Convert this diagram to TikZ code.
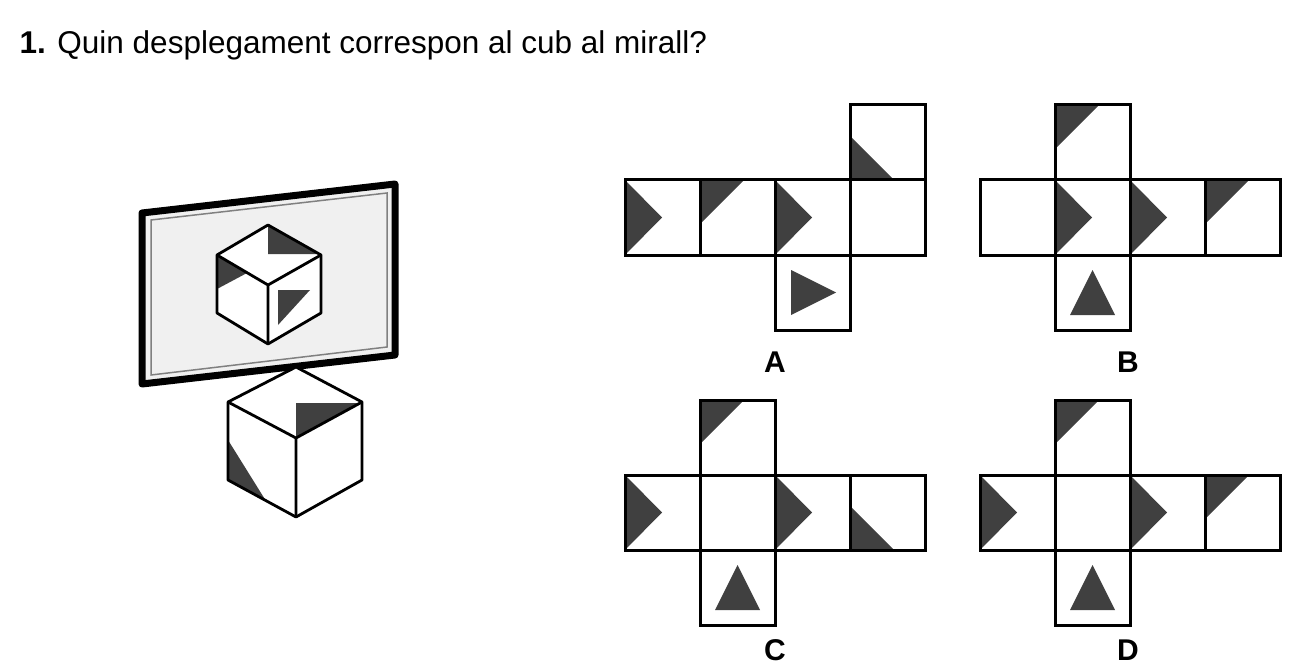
\documentclass[tikz,border=0pt]{standalone}
\usepackage{fontspec}
\setmainfont{Liberation Sans}
\definecolor{darkface}{HTML}{404040}
\definecolor{glass}{HTML}{F0F0F0}

% marks inside a 75x75 face, (#1,#2) = top left corner
\newcommand{\chev}[2]{\fill[darkface] (#1,#2) -- (#1,#2+75) -- (#1+37,#2+37.5) -- cycle;}
\newcommand{\wtl}[2]{\fill[darkface] (#1,#2) -- (#1+44,#2) -- (#1,#2+44) -- cycle;}
\newcommand{\wbl}[2]{\fill[darkface] (#1,#2+31) -- (#1,#2+75) -- (#1+44,#2+75) -- cycle;}
\newcommand{\tright}[2]{\fill[darkface] (#1+16,#2+15) -- (#1+16,#2+60) -- (#1+61,#2+37.5) -- cycle;}
\newcommand{\tup}[2]{\fill[darkface] (#1+15,#2+60) -- (#1+60,#2+60) -- (#1+37.5,#2+15) -- cycle;}
\newcommand{\face}[2]{\draw[edge] (#1,#2) rectangle ++(75,75);}

\begin{document}
\begin{tikzpicture}[x=1pt, y=-1pt,
    edge/.style={line width=3pt, line join=miter},
    cube/.style={line width=2.8pt, line join=round},
    letter/.style={font=\fontsize{30}{34}\selectfont\bfseries}]
  \useasboundingbox (0,0) rectangle (1302,666);

  % Question
  \node[anchor=west, font=\fontsize{31.5}{36}\selectfont] (title) at (16,45)
    {\textbf{1.} Quin desplegament correspon al cub al mirall?};

  % Mirror
  \draw[line width=7pt, line join=round, fill=glass]
    (142,213) -- (395,184) -- (395,355) -- (142,384) -- cycle;
  \draw[gray, line width=1.5pt] (151,220) -- (387,193) -- (387,347) -- (151,375) -- cycle;

  % Cube seen in the mirror
  \fill[white] (268,225) -- (321,255) -- (321,313) -- (268,344) -- (217,313) -- (217,255) -- cycle;
  \fill[darkface] (268,225) -- (268,254) -- (318,254) -- cycle;
  \fill[darkface] (217,255) -- (217,289) -- (247,273) -- cycle;
  \fill[darkface] (278,290) -- (310,290) -- (278,325) -- cycle;
  \draw[cube] (268,225) -- (321,255) -- (321,313) -- (268,344) -- (217,313) -- (217,255) -- cycle;
  \draw[cube] (217,255) -- (268,285) -- (321,255) (268,285) -- (268,344);

  % Real cube
  \fill[white] (296,367) -- (362,402) -- (362,480) -- (296,517) -- (228,480) -- (228,402) -- cycle;
  \fill[darkface] (296,403) -- (359,403) -- (296,438) -- cycle;
  \fill[darkface] (228,440) -- (228,480) -- (266,501) -- cycle;
  \draw[cube] (296,367) -- (362,402) -- (362,480) -- (296,517) -- (228,480) -- (228,402) -- cycle;
  \draw[cube] (228,402) -- (296,438) -- (362,402) (296,438) -- (296,517);

  % Net A
  \chev{625}{180} \wtl{700}{180} \chev{775}{180} \wbl{850}{105} \tright{775}{255}
  \foreach \x in {625,700,775,850} {\face{\x}{180}}
  \face{850}{105} \face{775}{255}
  \node[letter] (labA) at (775,362) {A};

  % Net B
  \chev{1055}{180} \chev{1130}{180} \wtl{1205}{180} \wtl{1055}{105} \tup{1055}{255}
  \foreach \x in {980,1055,1130,1205} {\face{\x}{180}}
  \face{1055}{105} \face{1055}{255}
  \node[letter] (labB) at (1128,362) {B};

  % Net C
  \chev{625}{475} \chev{775}{475} \wbl{850}{475} \wtl{700}{400} \tup{700}{550}
  \foreach \x in {625,700,775,850} {\face{\x}{475}}
  \face{700}{400} \face{700}{550}
  \node[letter] (labC) at (775,650) {C};

  % Net D
  \chev{980}{475} \chev{1130}{475} \wtl{1205}{475} \wtl{1055}{400} \tup{1055}{550}
  \foreach \x in {980,1055,1130,1205} {\face{\x}{475}}
  \face{1055}{400} \face{1055}{550}
  \node[letter] (labD) at (1128,650) {D};
\end{tikzpicture}
\end{document}
